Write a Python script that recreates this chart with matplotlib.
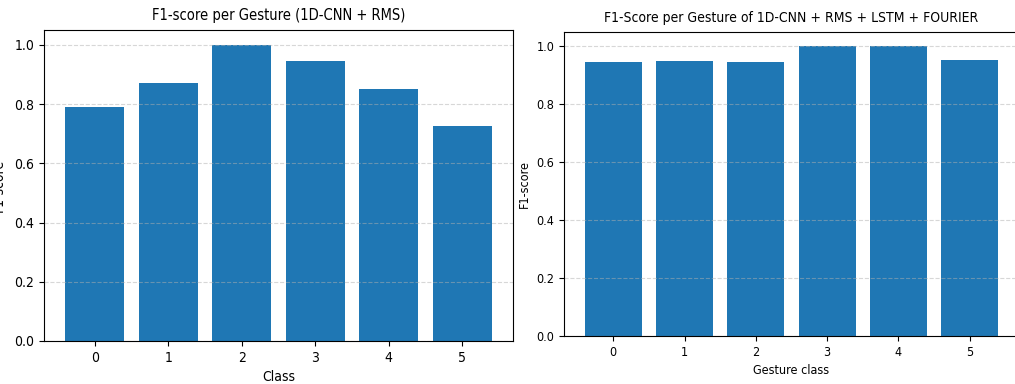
import matplotlib
matplotlib.use("Agg")
import matplotlib.pyplot as plt

classes = [0, 1, 2, 3, 4, 5]
f1_cnn_rms = [0.79, 0.87, 1.0, 0.947, 0.85, 0.727]
f1_full = [0.947, 0.95, 0.947, 1.0, 1.0, 0.952]

# the reference text looks narrow, condensed DejaVu gets closest
plt.rcParams["font.stretch"] = "condensed"

W, H = 1015, 384
fig = plt.figure(figsize=(W / 100, H / 100), dpi=100)


def px_axes(x0, y0, x1, y1):
    return fig.add_axes([x0 / W, 1 - y1 / H, (x1 - x0) / W, (y1 - y0) / H])


ax1 = px_axes(44, 30, 513, 341)
ax1.bar(classes, f1_cnn_rms, color="#1f77b4")
ax1.set_title("F1-score per Gesture (1D-CNN + RMS)", fontsize=10.5, pad=7)
ax1.set_xlabel("Class", fontsize=10)
ax1.set_ylabel("F1-score", fontsize=10)
ax1.yaxis.set_label_coords(-0.081, 0.5)
ax1.set_xticks(classes)
ax1.grid(axis="y", linestyle="--", alpha=0.5)

# right panel is clipped on its right side in the original
ax2 = px_axes(564, 32, 1019, 336)
ax2.bar(classes, f1_full, color="#1f77b4")
ax2.set_title("F1-Score per Gesture of 1D-CNN + RMS + LSTM + FOURIER", fontsize=10, pad=7)
ax2.set_xlabel("Gesture class", fontsize=9)
ax2.set_ylabel("F1-score", fontsize=9)
ax2.yaxis.set_label_coords(-0.072, 0.5)
ax2.set_xticks(classes)
ax2.tick_params(labelsize=9)
ax2.grid(axis="y", linestyle="--", alpha=0.5)

fig.savefig("out.png", dpi=100)
